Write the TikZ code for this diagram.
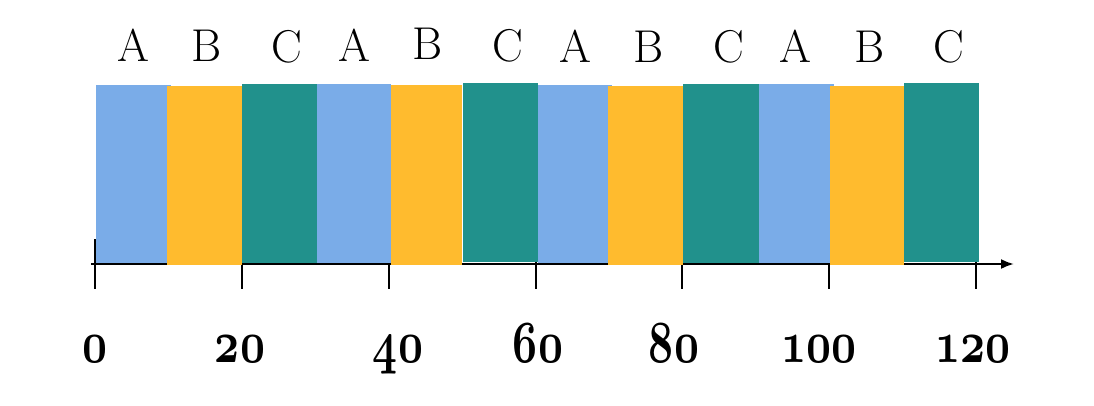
\documentclass[tikz,border=0pt]{standalone}
\usetikzlibrary{arrows.meta}
\definecolor{cblue}{RGB}{122,172,232}
\definecolor{corange}{RGB}{255,187,46}
\definecolor{cteal}{RGB}{33,145,140}
\newcommand{\osnum}[1]{{\fontsize{24.88}{28}\usefont{OML}{cmm}{b}{it}#1}}
\begin{document}
\begin{tikzpicture}[x=1pt,y=-1pt,
  lbl/.style={font=\fontsize{46}{50}\selectfont, anchor=base, inner sep=0pt},
  num/.style={anchor=base, inner sep=0pt, xscale=1.75, yscale=2.4},
  tick/.style={line width=2pt},
  axisline/.style={line width=2.2pt, -{Latex[length=13pt,width=10pt]}},
  barA/.style={fill=cblue},
  barB/.style={fill=corange},
  barC/.style={fill=cteal}]
\useasboundingbox[fill=white] (0,0) rectangle (1094,406);
% ticks (behind bars)
\foreach \x in {95,242,389,536,682,829,976}
  \draw[tick] (\x,239) -- (\x,289);
% axis
\coordinate (ax0) at (91,264);
\coordinate (ax1) at (1014,264);
\draw[axisline] (ax0) -- (ax1);
% bars
\fill[barA] (96,85) rectangle (171,263);
\fill[barB] (167,86) rectangle (242,265);
\fill[barC] (242,84) rectangle (317,263);
\fill[barA] (317,84) rectangle (391,263);
\fill[barB] (391,85) rectangle (462,265);
\fill[barC] (463,83) rectangle (538,262);
\fill[barA] (538,85) rectangle (612,263);
\fill[barB] (608,86) rectangle (683,265);
\fill[barC] (683,84) rectangle (759,263);
\fill[barA] (759,84) rectangle (834,263);
\fill[barB] (830,86) rectangle (904,265);
\fill[barC] (904,83) rectangle (979,262);
% letters
\node[lbl] (l1) at (133,62) {A};
\node[lbl] (l2) at (207,62) {B};
\node[lbl] (l3) at (287,63) {C};
\node[lbl] (l4) at (354,62) {A};
\node[lbl] (l5) at (428,60) {B};
\node[lbl] (l6) at (508,62) {C};
\node[lbl] (l7) at (575,63) {A};
\node[lbl] (l8) at (649,63) {B};
\node[lbl] (l9) at (729,63) {C};
\node[lbl] (l10) at (795,63) {A};
\node[lbl] (l11) at (870,63) {B};
\node[lbl] (l12) at (949,63) {C};
% numbers
\node[num] (n0) at (95,362) {\osnum{0}};
\node[num] (n20) at (240,362) {\osnum{20}};
\node[num] (n40) at (398,362) {\osnum{40}};
\node[num] (n60) at (538,362) {\osnum{60}};
\node[num] (n80) at (674,362) {\osnum{80}};
\node[num] (n100) at (819,362) {\osnum{100}};
\node[num] (n120) at (973,362) {\osnum{120}};
\end{tikzpicture}
\end{document}
